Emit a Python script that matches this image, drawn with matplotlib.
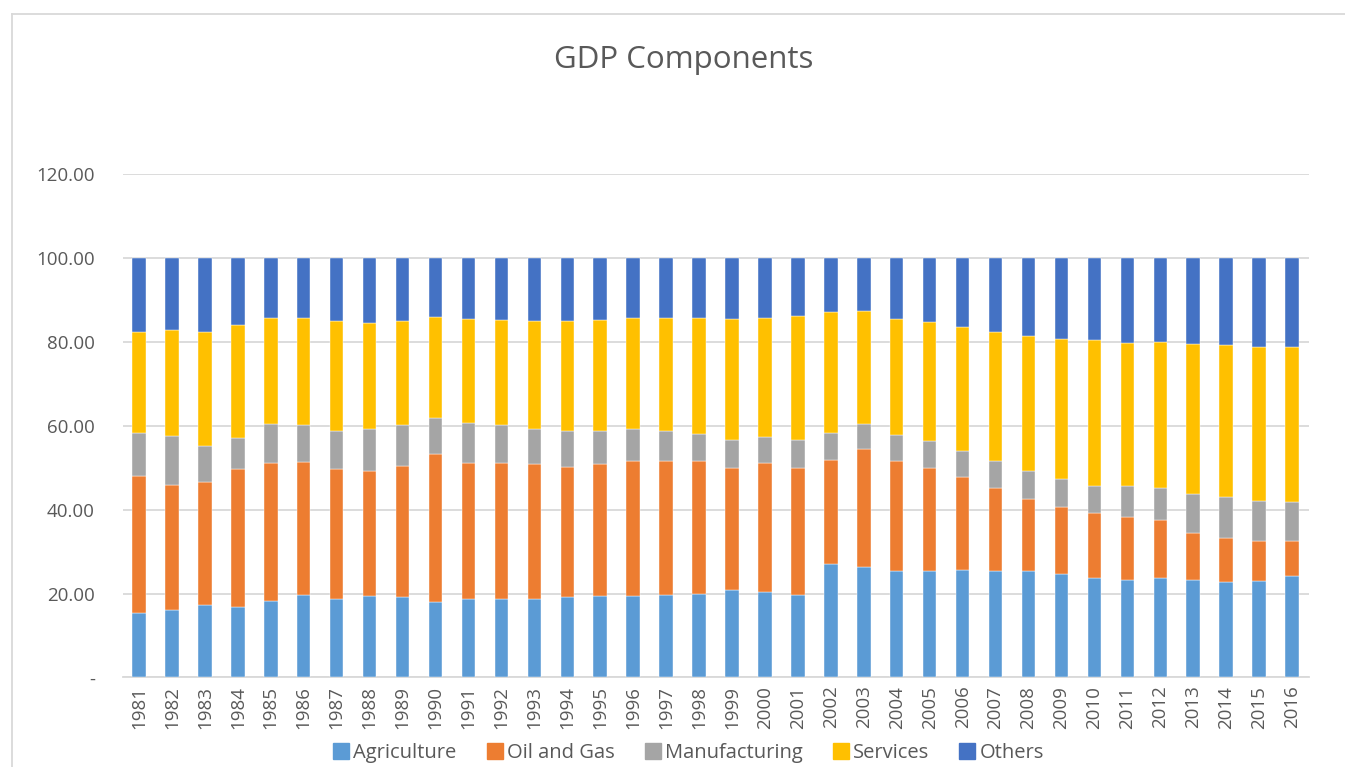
import numpy as np
import matplotlib.pyplot as plt
from matplotlib.lines import Line2D

plt.rcParams['font.family'] = ['Open Sans', 'DejaVu Sans']

years = list(range(1981, 2017))
agri = [15.4, 16.1, 17.3, 16.7, 18.1, 19.6, 18.8, 19.5, 19.1,
        17.9, 18.6, 18.6, 18.6, 19.1, 19.5, 19.5, 19.6, 20.0,
        20.8, 20.4, 19.7, 27.0, 26.3, 25.3, 25.3, 25.5, 25.4,
        25.3, 24.6, 23.8, 23.3, 23.8, 23.3, 22.8, 23.0, 24.3]
oil_top = [48.0, 45.8, 46.5, 49.6, 51.1, 51.3, 49.6, 49.3, 50.5,
           53.3, 51.1, 51.1, 50.8, 50.3, 50.8, 51.7, 51.6, 51.7,
           50.0, 51.1, 50.0, 51.9, 54.4, 51.7, 50.0, 47.7, 45.1,
           42.5, 40.7, 39.1, 38.2, 37.5, 34.4, 33.3, 32.6, 32.6]
manu_top = [58.2, 57.7, 55.1, 57.0, 60.5, 60.2, 58.9, 59.2, 60.1,
            62.0, 60.6, 60.1, 59.3, 58.7, 58.7, 59.2, 58.9, 58.0,
            56.6, 57.4, 56.7, 58.2, 60.5, 57.8, 56.4, 54.1, 51.7,
            49.2, 47.3, 45.7, 45.6, 45.3, 43.7, 43.1, 42.2, 41.9]
serv_top = [82.3, 82.8, 82.3, 84.1, 85.8, 85.8, 85.0, 84.6, 85.0,
            86.0, 85.5, 85.3, 85.1, 85.0, 85.3, 85.8, 85.8, 85.7,
            85.4, 85.8, 86.2, 87.1, 87.5, 85.6, 84.8, 83.6, 82.5,
            81.4, 80.8, 80.4, 79.9, 80.0, 79.6, 79.3, 78.9, 78.9]

oil = np.array(oil_top) - np.array(agri)
manu = np.array(manu_top) - np.array(oil_top)
serv = np.array(serv_top) - np.array(manu_top)
others = 100 - np.array(serv_top)

names = ['Agriculture', 'Oil and Gas', 'Manufacturing', 'Services', 'Others']
colors = ['#5B9BD5', '#ED7D31', '#A5A5A5', '#FFC000', '#4472C4']
series = [np.array(agri), oil, manu, serv, others]

fig = plt.figure(figsize=(13.45, 7.67), dpi=100)
ax = fig.add_axes([0.0911, 0.1169, 0.8818, 0.6556])

x = np.arange(len(years))
bottom = np.zeros(len(years))
for vals, c, n in zip(series, colors, names):
    ax.bar(x, vals, 0.41, bottom=bottom, color=c, label=n, zorder=3,
           edgecolor='white', linewidth=0.3)
    bottom += vals

ax.set_xlim(-0.5, len(years) - 0.5)
ax.set_ylim(0, 120)
ax.set_yticks(range(0, 121, 20))
ax.set_yticklabels(['-'] + [f'{v:.2f}' for v in range(20, 121, 20)])
ax.set_xticks(x)
ax.set_xticklabels([str(y) for y in years], rotation=90)
ax.grid(axis='y', color='#D9D9D9', linewidth=1.3, zorder=0)
for s in ['top', 'right', 'left']:
    ax.spines[s].set_visible(False)
ax.spines['bottom'].set_color('#D9D9D9')
ax.spines['bottom'].set_linewidth(1.3)
ax.tick_params(length=0, labelsize=13.5, colors='#595959')
ax.tick_params(axis='y', pad=20)
ax.tick_params(axis='x', pad=6)

fig.text(0.508, 0.922, 'GDP Components', ha='center', va='center',
         fontsize=22.5, color='#595959')

handles = [Line2D([], [], marker='s', ls='', color=c, markersize=11) for c in colors]
fig.legend(handles, names, loc='center', bbox_to_anchor=(0.511, 0.018),
           ncol=5, frameon=False, fontsize=14.5, labelcolor='#595959',
           handletextpad=0.1, columnspacing=1.4, handlelength=1.0,
           borderaxespad=0)

# chart area border (left and top edges visible)
fig.add_artist(Line2D([12 / 1345, 12 / 1345], [0, 1 - 14 / 767],
                      transform=fig.transFigure, color='#D9D9D9', lw=1.3))
fig.add_artist(Line2D([12 / 1345, 1], [1 - 14 / 767, 1 - 14 / 767],
                      transform=fig.transFigure, color='#D9D9D9', lw=1.3))

fig.savefig('out.png', dpi=100)
